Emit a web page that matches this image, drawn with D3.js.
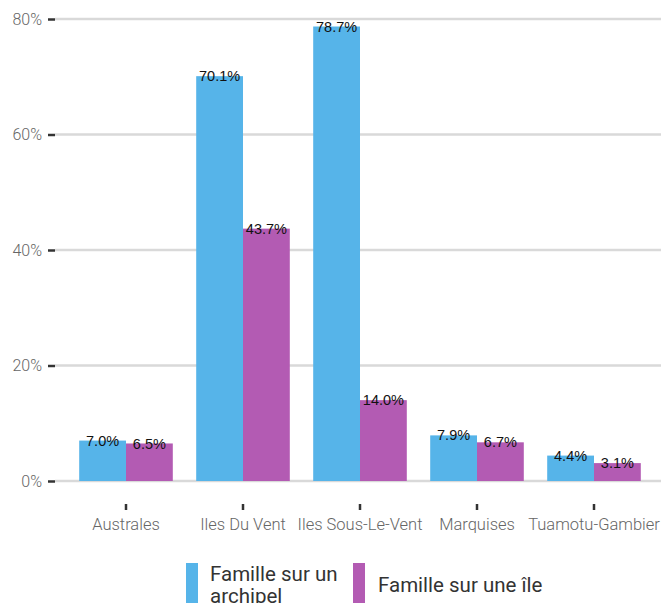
<!DOCTYPE html>
<html><head><meta charset="utf-8">
<script src="https://cdn.jsdelivr.net/npm/d3@7"></script>
<style>body{margin:0;background:#fff}svg{display:block}</style>
</head><body>
<script>
const categories = ["Australes","Iles Du Vent","Iles Sous-Le-Vent","Marquises","Tuamotu-Gambier"];
const seriesNames = ["Famille sur un archipel","Famille sur une île"];
const archipel = [7.0, 70.1, 78.7, 7.9, 4.4];
const ile = [6.5, 43.7, 14.0, 6.7, 3.1];
const yTicks = [0, 20, 40, 60, 80];
const colors = ["#56B4E9", "#B35BB3"];

const W = 661, H = 603;
const svg = d3.select("body").append("svg").attr("width", W).attr("height", H);

const y = d3.scaleLinear().domain([0, 80]).range([481, 19]);
const x = d3.scaleBand().domain(categories).range([55.8, 664.2]).paddingInner(0.2).paddingOuter(0.2);
const xs = d3.scaleBand().domain([0,1]).range([0, x.bandwidth()]);

// gridlines
svg.append("g").selectAll("line").data(yTicks).join("line")
  .attr("x1", 55).attr("x2", 661)
  .attr("y1", d => y(d)).attr("y2", d => y(d))
  .attr("stroke", "#d9d9d9").attr("stroke-width", 2.5);

// y axis
const yAxis = d3.axisLeft(y).tickValues(yTicks).tickFormat(d => d + "%").tickSize(7).tickPadding(6);
const ya = svg.append("g").attr("transform", "translate(55,0)").call(yAxis);
ya.select(".domain").remove();
ya.selectAll(".tick line").attr("stroke", "#333").attr("stroke-width", 2.5);
ya.selectAll(".tick text").attr("fill", "#666").attr("font-family", "Roboto").attr("font-weight", 300).attr("font-size", 16);

// x axis
const xAxis = d3.axisBottom(x).tickSize(6).tickPadding(8);
const xa = svg.append("g").attr("transform", "translate(0,504)").call(xAxis);
xa.select(".domain").remove();
xa.selectAll(".tick line").attr("stroke", "#333").attr("stroke-width", 2.5);
xa.selectAll(".tick text").attr("fill", "#666").attr("font-family", "Roboto").attr("font-weight", 300).attr("font-size", 16.5);

const data = categories.map((c, i) => ({c, vals: [archipel[i], ile[i]]}));
const groups = svg.append("g").selectAll("g").data(data).join("g")
  .attr("transform", d => `translate(${x(d.c)},0)`);
groups.selectAll("rect").data(d => d.vals.map((v, k) => ({v, k}))).join("rect")
  .attr("x", d => xs(d.k)).attr("width", xs.bandwidth())
  .attr("y", d => y(d.v)).attr("height", d => y(0) - y(d.v))
  .attr("fill", d => colors[d.k]);
groups.selectAll("text").data(d => d.vals.map((v, k) => ({v, k}))).join("text")
  .attr("x", d => xs(d.k) + xs.bandwidth() / 2).attr("y", d => y(d.v))
  .attr("dy", "0.35em").attr("text-anchor", "middle")
  .attr("font-family", "Liberation Sans, Arial").attr("font-size", 14.5).attr("fill", "#111")
  .text(d => d.v.toFixed(1) + "%");

// legend
const lg = svg.append("g");
lg.append("rect").attr("x", 186).attr("y", 563).attr("width", 12).attr("height", 45).attr("fill", colors[0]);
lg.append("rect").attr("x", 353).attr("y", 563).attr("width", 12).attr("height", 45).attr("fill", colors[1]);
const t1 = lg.append("text").attr("x", 210).attr("y", 581).attr("font-family", "Roboto").attr("font-size", 20.5).attr("fill", "#333");
t1.append("tspan").attr("x", 210).text("Famille sur un");
t1.append("tspan").attr("x", 210).attr("dy", 22).text("archipel");
lg.append("text").attr("x", 378).attr("y", 592).attr("font-family", "Roboto").attr("font-size", 20.5).attr("fill", "#333").text(seriesNames[1]);
</script>
</body></html>
